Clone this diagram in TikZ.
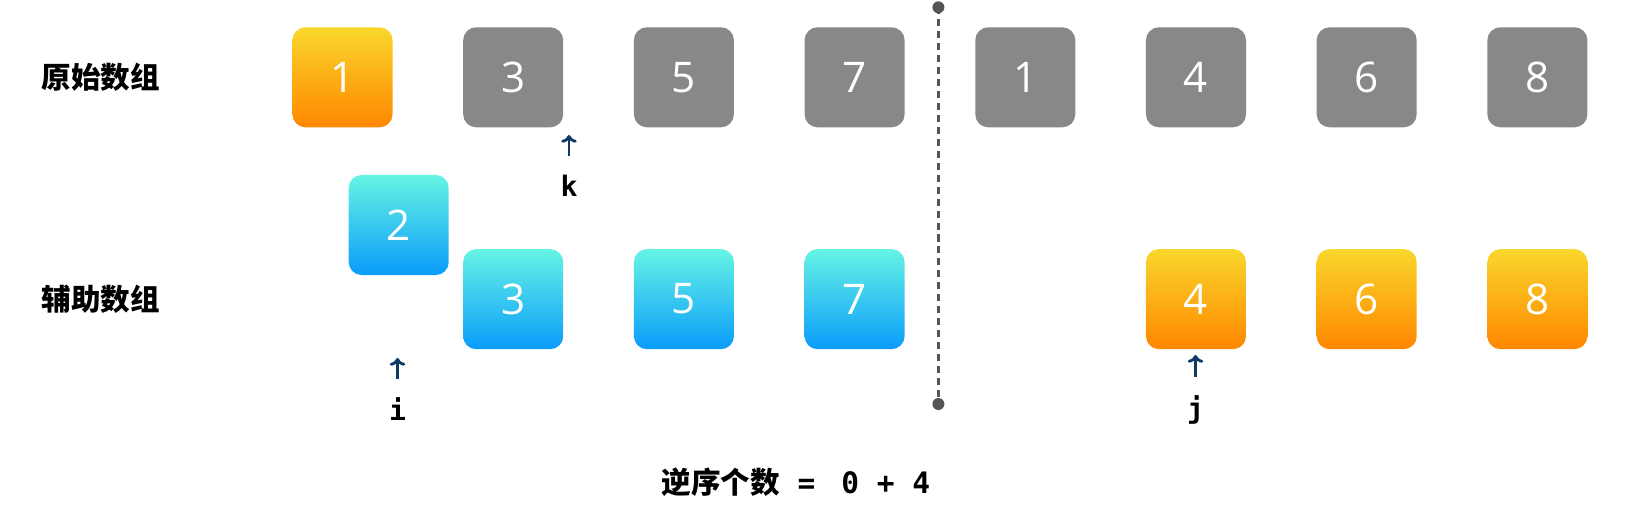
\documentclass[tikz,border=0pt]{standalone}
\usepackage{fontspec}
\setmainfont{Open Sans}
\setmonofont{DejaVu Sans Mono}
\newfontfamily\cjk{Noto Sans CJK SC}
\usetikzlibrary{positioning, arrows.meta}
\definecolor{cellgrey}{HTML}{888888}
\definecolor{hottop}{HTML}{F9D72C}
\definecolor{hotbot}{HTML}{FF8700}
\definecolor{coldtop}{HTML}{66F4E4}
\definecolor{coldbot}{HTML}{0A9CFA}
\definecolor{ptrblue}{HTML}{0E3A66}
\definecolor{midline}{HTML}{555555}

\begin{document}
\begin{tikzpicture}[x=0.01cm, y=-0.01cm, node distance={0.706cm},
    cell/.style = {rectangle, rounded corners=0.13cm, minimum width=1cm, minimum height=1cm, inner sep=0pt, outer sep=0pt, text=white, font=\fontsize{12}{12}\selectfont},
    oldcell/.style = {cell, fill=cellgrey},
    hotcell/.style = {cell, top color=hottop, bottom color=hotbot},
    coldcell/.style = {cell, top color=coldtop, bottom color=coldbot},
    rowlab/.style = {inner sep=0pt, font=\cjk\bfseries\fontsize{8.4}{8.4}\selectfont},
    ptrlab/.style = {anchor=base, inner sep=0pt, font=\ttfamily\bfseries\fontsize{8}{8}\selectfont},
    ptr/.style = {-{To[length=2.2pt, width=4.4pt]}, ptrblue, line width=0.8pt, shorten <=0.175cm},
    divider/.style = {midline, line width=1pt, dash pattern=on 2pt off 1.4pt}]
                \useasboundingbox (0,0) rectangle (1636,518);

                \node[rowlab] (orig) at (101,77) {原始数组};
                \node[rowlab] (help) at (101,299) {辅助数组};

                % original array
                \node[hotcell] (o1) at (342.5,77.3) {1};
                \node[oldcell] (o2) [right=of o1] {3};
                \node[oldcell] (o3) [right=of o2] {5};
                \node[oldcell] (o4) [right=of o3] {7};
                \node[oldcell] (o5) [right=of o4] {1};
                \node[oldcell] (o6) [right=of o5] {4};
                \node[oldcell] (o7) [right=of o6] {6};
                \node[oldcell] (o8) [right=of o7] {8};

                % helper array
                \node[coldcell] (h1) at (398.7,225) {2};
                \node[coldcell] (h2) [below=1.217cm of o2] {3};
                \node[coldcell] (h3) [below=1.217cm of o3] {5};
                \node[coldcell] (h4) [below=1.217cm of o4] {7};
                \node[hotcell] (h5) [below=1.217cm of o6] {4};
                \node[hotcell] (h6) [below=1.217cm of o7] {6};
                \node[hotcell] (h7) [below=1.217cm of o8] {8};

                % middle split
                \coordinate (cuttop) at (938.4,7.3);
                \coordinate (cutbot) at (938.4,404);
                \draw[divider] (cuttop) -- (cutbot);
                \fill[midline] (cuttop) circle (0.06cm) (cutbot) circle (0.06cm);

                % pointers
                \node[ptrlab] (k) at (569,196) {k};
                \coordinate (kh) at (569,135);
                \draw[ptr] (k) -- (kh);
                \node[ptrlab] (i) at (397.5,420) {i};
                \coordinate (ih) at (397.5,358);
                \draw[ptr] (i) -- (ih);
                \node[ptrlab] (j) at (1195.5,418) {j};
                \coordinate (jh) at (1195.5,355);
                \draw[ptr] (j) -- (jh);

                \node[rowlab] (sum) at (796,482) {逆序个数{\ttfamily\ =\ \kern0.08cm0 + 4}};
            \end{tikzpicture}
\end{document}
